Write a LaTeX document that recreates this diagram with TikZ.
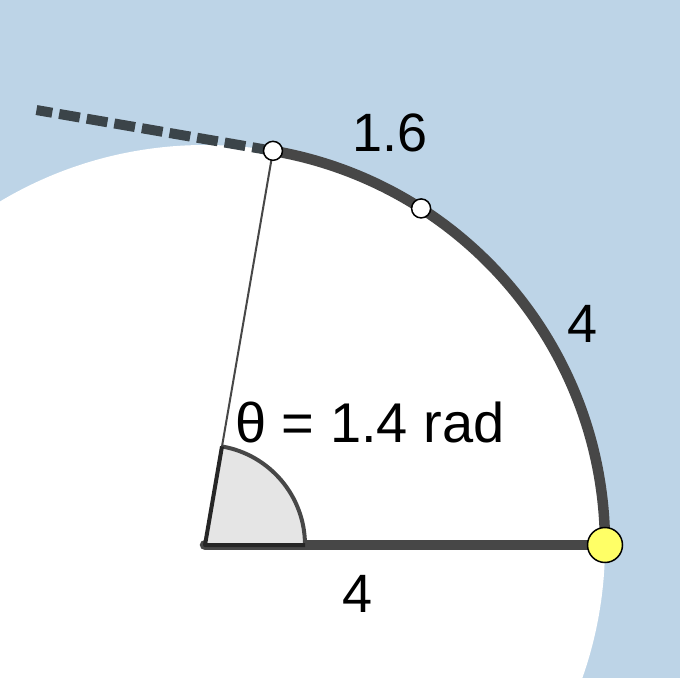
\documentclass[tikz,border=0pt]{standalone}
\usepackage{fontspec}
\setmainfont{Liberation Sans}
\usetikzlibrary{calc}
\definecolor{bgblue}{HTML}{BDD4E7}
\definecolor{arcgray}{HTML}{474747}
\definecolor{tangray}{HTML}{3B4449}
\definecolor{wedgefill}{HTML}{E5E5E5}
\definecolor{dotyellow}{HTML}{FFFF66}
\begin{document}
\begin{tikzpicture}[x=1pt,y=1pt,
  lbl/.style={font=\fontsize{54}{60}\selectfont, text=black, inner sep=0pt, anchor=base},
  thickline/.style={draw=arcgray, line width=10.5pt},
  tangentline/.style={draw=tangray, line width=10pt, dash pattern=on 21pt off 7pt},
  thinline/.style={draw=arcgray, line width=2pt},
  wedgearc/.style={draw=arcgray, line width=4pt},
  wedgeside/.style={draw=black!85, line width=4pt, line join=round},
  whitedot/.style={circle, fill=white, draw=black, line width=1.5pt, minimum size=19pt, inner sep=0pt},
  yellowdot/.style={circle, fill=dotyellow, draw=black, line width=1.5pt, minimum size=35pt, inner sep=0pt}]
\useasboundingbox (-205,-133) rectangle (475,545);
\fill[bgblue] (-205,-133) rectangle (475,545);
\fill[white] (0,0) circle (400);
\coordinate (O) at (0,0);
\coordinate (A) at (400,0);
\coordinate (P) at (80.214:400);
\coordinate (M) at (57.296:400);
\coordinate (T) at ($(P)+(170.214:240)$);
\coordinate (W1) at (100,0);
\coordinate (W2) at (80.214:100);
% thin radius to P
\draw[thinline] (O) -- (P);
% radius along x axis
\draw[thickline, line cap=round] (O) -- (A);
% wedge
\fill[wedgefill] (O) -- (W1) arc (0:80.214:100) -- cycle;
\draw[wedgearc] (W1) arc (0:80.214:100);
\draw[wedgeside] (W1) -- (O) -- (W2);
% arc
\draw[thickline] (A) arc (0:80.214:400);
% tangent dashed
\draw[tangentline] (P) -- (T);
% dots
\node[whitedot] (p) at (P) {};
\node[whitedot] (m) at (M) {};
\node[yellowdot] (a) at (A) {};
% labels
\node[lbl] (l16) at (185,393) {1.6};
\node[lbl] (l4r) at (378,203) {4};
\node[lbl] (l4b) at (153,-67) {4};
\node[lbl, font=\fontsize{56}{60}\selectfont] (lth) at (165,103) {θ = 1.4 rad};
\end{tikzpicture}
\end{document}
